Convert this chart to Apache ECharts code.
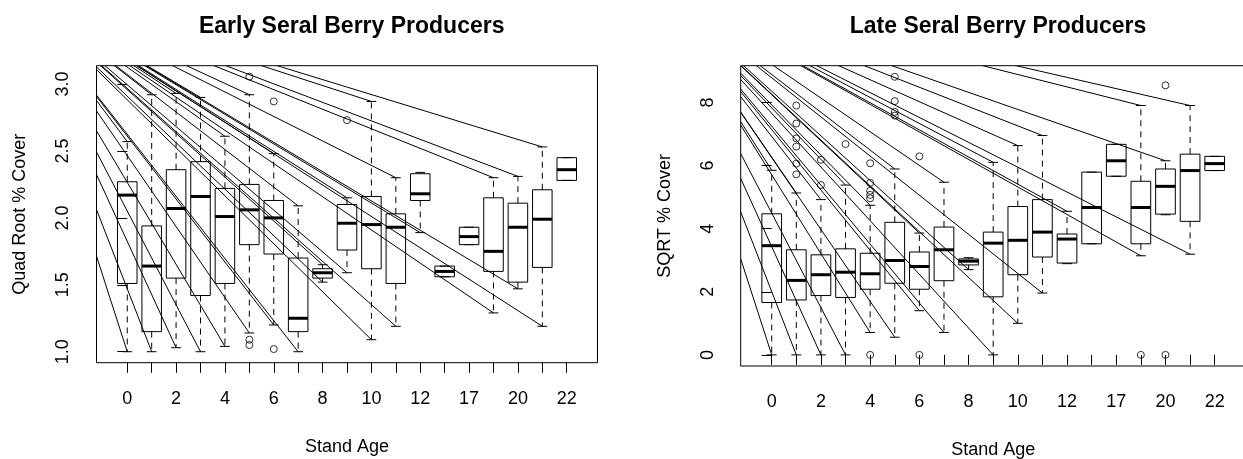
<!DOCTYPE html>
<html>
<head>
<meta charset="utf-8">
<script src="https://cdn.jsdelivr.net/npm/echarts@6/dist/echarts.min.js"></script>
<style>
html,body{margin:0;padding:0;background:#fff;}
#chart{width:1243px;height:459px;}
</style>
</head>
<body>
<div id="chart"></div>
<script>
// ---- data ----
const ageLabels = ['0','1','2','3','4','5','6','7','8','9','10','11','12','15','17','18','20','21','22'];
const ageLabelShown = [0,2,4,6,8,10,12,14,16,18];

// Early seral (quad root % cover)
const earlyLow  = [1.00,1.00,1.03,1.00,1.04,1.14,1.20,1.00,1.52,1.59,1.09,1.19,1.89,1.56,1.80,1.29,1.47,1.19,2.28];
const earlyQ1   = [1.51,1.15,1.55,1.42,1.51,1.80,1.73,1.15,1.55,1.76,1.62,1.51,2.13,1.56,1.80,1.60,1.52,1.63,2.28];
const earlyMed  = [2.17,1.64,2.07,2.16,2.01,2.06,2.00,1.25,1.59,1.96,1.95,1.93,2.18,1.60,1.86,1.75,1.93,1.99,2.36];
const earlyQ3   = [2.27,1.94,2.36,2.42,2.22,2.25,2.13,1.70,1.62,2.10,2.16,2.03,2.33,1.64,1.93,2.15,2.11,2.21,2.45];
const earlyHigh = [2.57,2.92,2.93,2.90,2.61,2.92,2.48,2.09,1.65,2.15,2.87,2.30,2.34,1.64,1.93,2.30,2.31,2.53,2.45];
const earlyOutliers = [[5,3.055],[5,1.09],[5,1.05],[6,2.87],[6,1.02],[9,2.73]];
const earlyYTicks = [1.0,1.5,2.0,2.5,3.0];
const earlyYRange = [0.918, 3.137];
const earlyLineOrigin = [-4.855, 3.752];

// Late seral (sqrt % cover)
const lateLow  = [0,0,0,0,0.71,0.56,1.40,0.71,2.70,0,1.00,1.96,2.89,3.52,5.66,3.14,4.44,3.19,5.84];
const lateQ1   = [1.66,1.74,1.88,1.82,2.08,2.27,2.08,2.35,2.85,1.84,2.54,3.10,2.91,3.52,5.66,3.52,4.46,4.23,5.84];
const lateMed  = [3.46,2.36,2.54,2.62,2.57,2.99,2.80,3.33,2.97,3.54,3.63,3.89,3.67,4.67,6.15,4.67,5.34,5.84,6.06];
const lateQ3   = [4.47,3.33,3.17,3.36,3.22,4.20,3.26,4.05,3.04,3.89,4.70,4.92,3.83,5.79,6.67,5.50,5.89,6.36,6.29];
const lateHigh = [5.85,5.13,4.92,5.38,4.74,5.89,3.86,5.47,3.08,6.10,6.63,6.95,4.55,5.79,6.67,7.90,6.15,7.90,6.29];
const lateOutliers = [[1,7.90],[1,7.33],[1,6.86],[1,6.60],[1,6.06],[1,5.72],[2,6.18],[2,5.38],[3,6.68],
  [4,6.07],[4,5.45],[4,5.20],[4,5.07],[4,4.96],[4,0],[5,8.81],[5,8.04],[5,7.70],[5,7.58],[6,6.29],[6,0],
  [15,0],[16,8.54],[16,0]];
const lateYTicks = [0,2,4,6,8];
const lateYRange = [-0.352, 9.162];
const lateLineOrigin = [-4.89, 11.81];

const xRange = [-1.26, 19.26];

// ---- build ----
function boxData(lo,q1,med,q3,hi){
  return ageLabels.map((_,i)=>[i,lo[i],q1[i],med[i],q3[i],hi[i]]);
}
function lineTargets(lo,q1,q3,hi,eps){
  const out=[];
  ageLabels.forEach((_,i)=>{
    if(hi[i]-q3[i]>eps) out.push([i,hi[i]]);
    if(q1[i]-lo[i]>eps) out.push([i,lo[i]]);
  });
  return out;
}
function ln(x1,y1,x2,y2,extra){
  return {type:'line',shape:{x1,y1,x2,y2},style:Object.assign({stroke:'#000',lineWidth:1,fill:null},extra||{})};
}
function renderBox(params, api){
  const x=api.value(0);
  const c=v=>api.coord([x,v]);
  const pLo=c(api.value(1)),pQ1=c(api.value(2)),pMed=c(api.value(3)),pQ3=c(api.value(4)),pHi=c(api.value(5));
  const w=api.size([0.8,0])[0], hw=w/2, sw=w/4, cx=pMed[0];
  return {type:'group',children:[
    ln(cx,pQ3[1],cx,pHi[1],{lineDash:[6,5]}),
    ln(cx,pQ1[1],cx,pLo[1],{lineDash:[6,5]}),
    ln(cx-sw,pHi[1],cx+sw,pHi[1]),
    ln(cx-sw,pLo[1],cx+sw,pLo[1]),
    {type:'rect',shape:{x:cx-hw,y:pQ3[1],width:w,height:pQ1[1]-pQ3[1]},style:{fill:'none',stroke:'#000',lineWidth:1}},
    ln(cx-hw,pMed[1],cx+hw,pMed[1],{lineWidth:3})
  ]};
}
function makeLineRenderer(origin){
  return function(params, api){
    const o=api.coord(origin);
    const e=api.coord([api.value(0),api.value(1)]);
    const cs=params.coordSys;
    return {type:'group',
      clipPath:{type:'rect',shape:{x:cs.x,y:cs.y,width:cs.width,height:cs.height}},
      children:[ln(o[0],o[1],e[0],e[1])]};
  };
}

const FONT='"Liberation Sans", Arial, sans-serif';
function xAxisCfg(gridIndex){
  return {
    type:'value', gridIndex, min:xRange[0], max:xRange[1],
    name:'Stand Age', nameLocation:'middle', nameGap:75,
    nameTextStyle:{fontFamily:FONT,fontSize:18,color:'#000'},
    axisLine:{show:false},
    axisTick:{show:true,length:10,lineStyle:{color:'#000'},customValues:ageLabels.map((_,i)=>i)},
    axisLabel:{show:true,margin:27,fontFamily:FONT,fontSize:18,color:'#000',customValues:ageLabelShown,
      formatter:v=>ageLabels[Math.round(v)]},
    splitLine:{show:false}
  };
}
function yAxisCfg(gridIndex, range, ticks, name, digits, nameGap){
  return {
    type:'value', gridIndex, min:range[0], max:range[1],
    name, nameLocation:'middle', nameGap, nameRotate:90,
    nameTextStyle:{fontFamily:FONT,fontSize:18,color:'#000'},
    axisLine:{show:false},
    axisTick:{show:true,length:10,lineStyle:{color:'#000'},customValues:ticks},
    axisLabel:{show:true,rotate:90,margin:24,fontFamily:FONT,fontSize:18,color:'#000',customValues:ticks,
      formatter:v=>Number(v).toFixed(digits)},
    splitLine:{show:false}
  };
}

const chart=echarts.init(document.getElementById('chart'),null,{renderer:'canvas'});
chart.setOption({
  animation:false,
  backgroundColor:'#fff',
  title:[
    {text:'Early Seral Berry Producers',left:346.7,top:10,textAlign:'center',
      textStyle:{fontFamily:FONT,fontSize:23,fontWeight:'bold',color:'#000'}},
    {text:'Late Seral Berry Producers',left:993,top:10,textAlign:'center',
      textStyle:{fontFamily:FONT,fontSize:23,fontWeight:'bold',color:'#000'}}
  ],
  grid:[
    {left:96.5,top:65.7,width:501,height:297,show:true,borderColor:'#000',borderWidth:1,backgroundColor:'transparent',containLabel:false,outerBoundsMode:'none'},
    {left:740.7,top:65.7,width:505,height:300.3,show:true,borderColor:'#000',borderWidth:1,backgroundColor:'transparent',containLabel:false,outerBoundsMode:'none'}
  ],
  xAxis:[xAxisCfg(0),xAxisCfg(1)],
  yAxis:[
    yAxisCfg(0,earlyYRange,earlyYTicks,'Quad Root % Cover',1,67),
    yAxisCfg(1,lateYRange,lateYTicks,'SQRT % Cover',0,67)
  ],
  series:[
    {type:'custom',xAxisIndex:0,yAxisIndex:0,data:boxData(earlyLow,earlyQ1,earlyMed,earlyQ3,earlyHigh),
      encode:{x:0,y:[1,2,3,4,5]},renderItem:renderBox,z:2},
    {type:'custom',xAxisIndex:0,yAxisIndex:0,data:lineTargets(earlyLow,earlyQ1,earlyQ3,earlyHigh,0.02),
      encode:{x:0,y:1},renderItem:makeLineRenderer(earlyLineOrigin),clip:true,z:3},
    {type:'scatter',xAxisIndex:0,yAxisIndex:0,data:earlyOutliers,symbol:'circle',symbolSize:7,
      itemStyle:{color:'transparent',borderColor:'#000',borderWidth:1},z:4},
    {type:'custom',xAxisIndex:1,yAxisIndex:1,data:boxData(lateLow,lateQ1,lateMed,lateQ3,lateHigh),
      encode:{x:0,y:[1,2,3,4,5]},renderItem:renderBox,z:2},
    {type:'custom',xAxisIndex:1,yAxisIndex:1,data:lineTargets(lateLow,lateQ1,lateQ3,lateHigh,0.05),
      encode:{x:0,y:1},renderItem:makeLineRenderer(lateLineOrigin),clip:true,z:3},
    {type:'scatter',xAxisIndex:1,yAxisIndex:1,data:lateOutliers,symbol:'circle',symbolSize:7,
      itemStyle:{color:'transparent',borderColor:'#000',borderWidth:1},z:4}
  ]
});
</script>
</body>
</html>
